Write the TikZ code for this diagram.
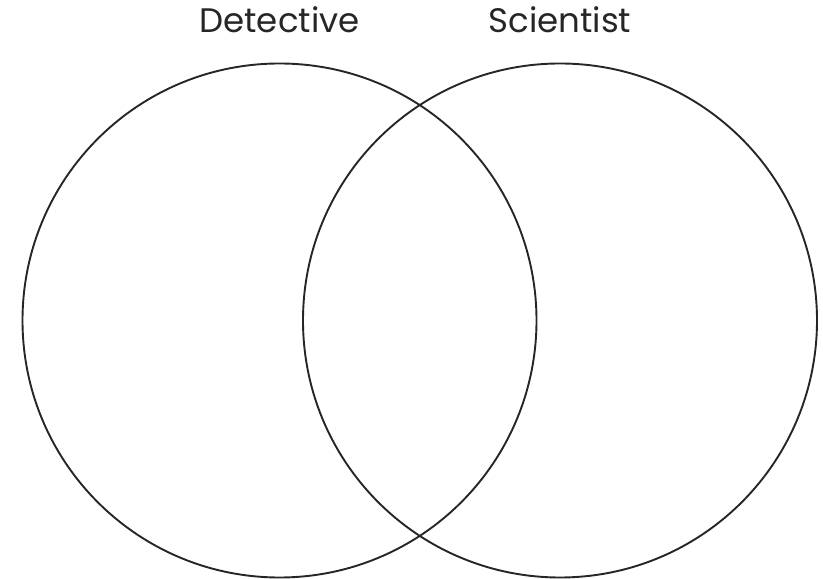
\documentclass[tikz,border=0pt]{standalone}
\usepackage{fontspec}
\setmainfont{Poppins}
\usepackage{tikz}
\usetikzlibrary{positioning}

\begin{document}
\begin{tikzpicture}[x=1pt, y=1pt, font=\fontsize{34}{40}\selectfont]

			\useasboundingbox (0, 0) rectangle (823, 579);

			% Insiemi
			\tikzset{insieme/.style={draw=black!85, line width=1.9pt, circle, minimum size=514pt, inner sep=0pt}}
			\node[insieme] (detective) at (279.5, 258.5) {};
			\node[insieme] (scientist) at (560, 258.5) {};

			% Etichette sopra i cerchi
			\node[anchor=base, text=black!85] (labdet) at (279.5, 546) {Detective};
			\node[anchor=base, text=black!85] (labsci) at (560, 546) {Scientist};

		\end{tikzpicture}
\end{document}
